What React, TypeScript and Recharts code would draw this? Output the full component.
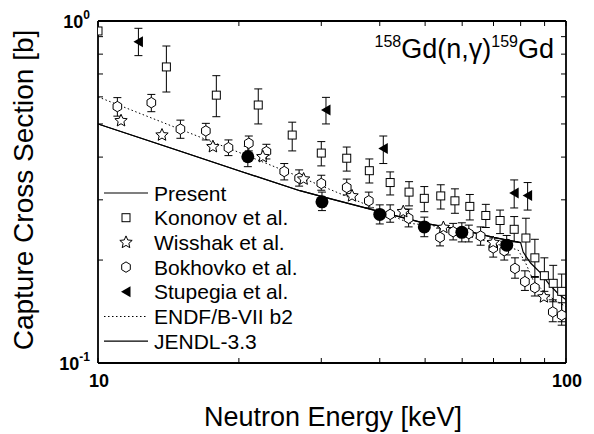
import React from "react";
import { ComposedChart, Line, Scatter, ErrorBar, XAxis, YAxis, Legend, Customized } from "recharts";

const FONT = '"Liberation Sans", Arial, Helvetica, sans-serif';

// Energies in keV, capture cross sections in barns
const kononovE = [10.0, 14.0, 17.9, 22.0, 26.0, 30.0, 34.0, 38.0, 42.1, 46.2, 49.8, 54.0, 57.9, 62.3, 67.4, 72.3, 77.5, 82.1, 85.8, 89.9, 93.9, 97.9];
const kononovXs = [0.935, 0.734, 0.607, 0.568, 0.464, 0.411, 0.397, 0.365, 0.337, 0.316, 0.303, 0.308, 0.298, 0.287, 0.270, 0.261, 0.246, 0.232, 0.203, 0.180, 0.171, 0.162];
const kononovHi = [NaN, 0.845, 0.692, 0.633, 0.506, 0.444, 0.428, 0.395, 0.362, 0.339, 0.328, 0.332, 0.323, 0.311, 0.291, 0.280, 0.268, 0.265, 0.230, 0.203, 0.193, 0.182];
const kononovLo = [NaN, 0.620, 0.525, 0.500, 0.417, 0.377, 0.364, 0.336, 0.310, 0.288, 0.277, 0.282, 0.274, 0.262, 0.249, 0.239, 0.226, 0.200, 0.178, 0.162, 0.151, 0.132];

const wisshakE = [11.2, 13.7, 17.6, 22.5, 27.5, 34.9, 44.9, 54.7, 69.9, 89.7];
const wisshakXs = [0.511, 0.464, 0.429, 0.401, 0.345, 0.308, 0.277, 0.249, 0.225, 0.156];

const bokhovkoE = [11.0, 13.0, 15.0, 17.0, 19.0, 21.0, 22.9, 25.0, 26.9, 30.0, 34.0, 37.9, 42.1, 46.1, 53.8, 57.4, 62.0, 65.7, 69.9, 73.8, 77.8, 81.7, 85.8, 93.7, 97.9];
const bokhovkoXs = [0.562, 0.577, 0.483, 0.477, 0.426, 0.439, 0.415, 0.363, 0.347, 0.335, 0.326, 0.298, 0.272, 0.265, 0.233, 0.242, 0.239, 0.235, 0.217, 0.213, 0.189, 0.173, 0.166, 0.141, 0.138];
const bokhovkoHi = [0.597, 0.610, 0.513, 0.502, 0.449, 0.461, 0.436, 0.383, 0.367, 0.354, 0.345, 0.316, 0.290, 0.282, 0.248, 0.256, 0.253, 0.250, 0.232, 0.227, 0.203, 0.186, 0.179, 0.153, 0.150];
const bokhovkoLo = [0.527, 0.543, 0.454, 0.449, 0.404, 0.417, 0.395, 0.343, 0.329, 0.320, 0.310, 0.284, 0.258, 0.250, 0.220, 0.229, 0.226, 0.221, 0.204, 0.200, 0.177, 0.163, 0.157, 0.132, 0.129];

const stupegiaE = [12.2, 30.7, 40.7, 77.5, 82.8];
const stupegiaXs = [0.870, 0.549, 0.424, 0.314, 0.309];
const stupegiaHi = [0.952, 0.598, 0.461, 0.343, 0.337];
const stupegiaLo = [0.792, 0.500, 0.383, 0.284, 0.280];

const presentE = [20.9, 30.1, 40.0, 49.8, 59.9, 74.7];
const presentXs = [0.401, 0.296, 0.272, 0.250, 0.241, 0.221];
const presentHi = [0.430, 0.316, 0.290, 0.267, 0.257, 0.236];
const presentLo = [0.375, 0.279, 0.255, 0.234, 0.226, 0.207];

// evaluated curves
const presentFitE = [10, 15, 20, 27, 30, 40, 50, 60, 70, 80];
const presentFitXs = [0.500, 0.416, 0.365, 0.319, 0.307, 0.277, 0.256, 0.245, 0.233, 0.225];
const jendlE = [10, 15, 20, 27, 30, 40, 50, 60, 70, 80, 81, 84, 88, 92, 96, 100];
const jendlXs = [0.500, 0.416, 0.365, 0.319, 0.307, 0.277, 0.256, 0.245, 0.233, 0.225, 0.211, 0.196, 0.184, 0.170, 0.160, 0.153];
const endfE = [10, 15, 20, 27, 35, 46.4, 52, 60, 70, 79, 82, 85, 91, 100];
const endfXs = [0.600, 0.482, 0.413, 0.350, 0.302, 0.256, 0.252, 0.238, 0.224, 0.214, 0.196, 0.175, 0.158, 0.146];

const xTicks = [10, 20, 30, 40, 50, 60, 70, 80, 90, 100];
const yTicks = [0.1, 0.2, 0.3, 0.4, 0.5, 0.6, 0.7, 0.8, 0.9, 1];

const points = (e: number[], xs: number[], hi?: number[], lo?: number[]) =>
  e.map((x, i) => ({
    x,
    y: xs[i],
    err: hi && lo && !isNaN(hi[i]) ? [xs[i] - lo[i], hi[i] - xs[i]] : undefined,
  }));

const curve = (e: number[], xs: number[]) => e.map((x, i) => ({ x, y: xs[i] }));

const OpenSquare = ({ cx, cy }: any) => (
  <rect x={cx - 4} y={cy - 4} width={8} height={8} fill="#fff" stroke="#000" strokeWidth={1} />
);

const OpenStar = ({ cx, cy }: any) => {
  const pts: string[] = [];
  for (let k = 0; k < 10; k++) {
    const r = k % 2 === 0 ? 6.5 : 3.0;
    const a = -Math.PI / 2 + (k * Math.PI) / 5;
    pts.push(`${cx + r * Math.cos(a)},${cy + r * Math.sin(a)}`);
  }
  return <polygon points={pts.join(" ")} fill="#fff" stroke="#000" strokeWidth={1} />;
};

const OpenHexagon = ({ cx, cy }: any) => {
  const rx = 4.3;
  const ry = 5.2;
  const pts = [
    [cx, cy - ry],
    [cx + rx, cy - ry / 2],
    [cx + rx, cy + ry / 2],
    [cx, cy + ry],
    [cx - rx, cy + ry / 2],
    [cx - rx, cy - ry / 2],
  ];
  return <polygon points={pts.map((p) => p.join(",")).join(" ")} fill="#fff" stroke="#000" strokeWidth={1} />;
};

const LeftTriangle = ({ cx, cy }: any) => (
  <polygon points={`${cx - 5},${cy} ${cx + 4.5},${cy - 5.5} ${cx + 4.5},${cy + 5.5}`} fill="#000" />
);

const FilledCircle = ({ cx, cy }: any) => <circle cx={cx} cy={cy} r={6.5} fill="#000" />;

const legendRows = [
  { name: "Present", kind: "solid" },
  { name: "Kononov et al.", kind: "square" },
  { name: "Wisshak et al.", kind: "star" },
  { name: "Bokhovko et al.", kind: "hexagon" },
  { name: "Stupegia et al.", kind: "triangle" },
  { name: "ENDF/B-VII b2", kind: "dotted" },
  { name: "JENDL-3.3", kind: "solid" },
];

const LegendBox = () => (
  <svg width={220} height={180} style={{ display: "block" }}>
    {legendRows.map((row, i) => {
      const cy = 12 + i * 24.7;
      const cx = 26;
      let glyph: React.ReactNode = null;
      if (row.kind === "solid") glyph = <line x1={4} x2={48} y1={cy} y2={cy} stroke="#000" strokeWidth={1.2} />;
      if (row.kind === "dotted") glyph = <line x1={4} x2={48} y1={cy} y2={cy} stroke="#000" strokeWidth={1} strokeDasharray="1.5 2.5" />;
      if (row.kind === "square") glyph = <OpenSquare cx={cx} cy={cy} />;
      if (row.kind === "star") glyph = <OpenStar cx={cx} cy={cy} />;
      if (row.kind === "hexagon") glyph = <OpenHexagon cx={cx} cy={cy} />;
      if (row.kind === "triangle") glyph = <LeftTriangle cx={cx} cy={cy} />;
      return (
        <g key={row.name}>
          {glyph}
          <text x={54} y={cy + 7.5} fontFamily={FONT} fontSize={21} fill="#000">
            {row.name}
          </text>
        </g>
      );
    })}
  </svg>
);

// ticks point into the plot; only the decade ends carry labels
const BottomTick = ({ x, y, payload }: any) => (
  <g>
    <line x1={x} y1={y} x2={x} y2={y - 5} stroke="#000" strokeWidth={1} />
    {(payload.value === 10 || payload.value === 100) && (
      <text x={x + 1} y={y + 24} textAnchor="middle" fontFamily={FONT} fontWeight="bold" fontSize={18} fill="#000">
        {payload.value}
      </text>
    )}
  </g>
);

const TopTick = ({ x, y }: any) => <line x1={x} y1={y} x2={x} y2={y + 5} stroke="#000" strokeWidth={1} />;

const LeftTick = ({ x, y, payload }: any) => {
  const exp = payload.value === 1 ? "0" : payload.value === 0.1 ? "-1" : null;
  return (
    <g>
      <line x1={x} y1={y} x2={x + 5} y2={y} stroke="#000" strokeWidth={1} />
      {exp && (
        <text x={x - 8} y={y + 7} textAnchor="end" fontFamily={FONT} fontWeight="bold" fontSize={18} fill="#000">
          10
          <tspan dy={-9} fontSize={12}>
            {exp}
          </tspan>
        </text>
      )}
    </g>
  );
};

const RightTick = ({ x, y }: any) => <line x1={x} y1={y} x2={x - 5} y2={y} stroke="#000" strokeWidth={1} />;

const Annotations = () => (
  <g fontFamily={FONT} fill="#000">
    <text x={325} y={418} textAnchor="middle" fontSize={27}>
      Neutron Energy [keV]
    </text>
    <text x={25} y={182} textAnchor="middle" fontSize={28} transform="rotate(-90 25 182)">
      Capture Cross Section [b]
    </text>
    <text x={546} y={50} textAnchor="end" fontSize={27}>
      <tspan fontSize={16} dy={-11}>158</tspan>
      <tspan dy={11}>Gd(n,γ)</tspan>
      <tspan fontSize={16} dy={-11}>159</tspan>
      <tspan dy={11}>Gd</tspan>
    </text>
  </g>
);

export default function App() {
  const axisLine = { stroke: "#000", strokeWidth: 1.8 };
  const errProps = { dataKey: "err", direction: "y" as const, width: 4, stroke: "#000", strokeWidth: 1 };

  return (
    <ComposedChart width={578} height={426} margin={{ top: 12, right: 19, bottom: 31, left: 10 }}>
      <XAxis
        xAxisId="b"
        dataKey="x"
        type="number"
        scale="log"
        domain={[10, 100]}
        ticks={xTicks}
        allowDataOverflow
        height={40}
        axisLine={axisLine}
        tickLine={false}
        tickSize={0}
        tickMargin={0}
        tick={<BottomTick />}
        interval={0}
      />
      <XAxis
        xAxisId="t"
        orientation="top"
        dataKey="x"
        type="number"
        scale="log"
        domain={[10, 100]}
        ticks={xTicks}
        allowDataOverflow
        height={1}
        axisLine={axisLine}
        tickLine={false}
        tickSize={0}
        tickMargin={0}
        tick={<TopTick />}
        interval={0}
      />
      <YAxis
        yAxisId="l"
        dataKey="y"
        type="number"
        scale="log"
        domain={[0.1, 1]}
        ticks={yTicks}
        allowDataOverflow
        width={80}
        axisLine={axisLine}
        tickLine={false}
        tickSize={0}
        tickMargin={0}
        tick={<LeftTick />}
        interval={0}
      />
      <YAxis
        yAxisId="r"
        orientation="right"
        dataKey="y"
        type="number"
        scale="log"
        domain={[0.1, 1]}
        ticks={yTicks}
        allowDataOverflow
        width={1}
        axisLine={axisLine}
        tickLine={false}
        tickSize={0}
        tickMargin={0}
        tick={<RightTick />}
        interval={0}
      />

      <Line xAxisId="b" yAxisId="l" data={curve(endfE, endfXs)} dataKey="y" type="linear" dot={false} stroke="#000" strokeWidth={1} strokeDasharray="1.5 2.5" isAnimationActive={false} />
      <Line xAxisId="b" yAxisId="l" data={curve(jendlE, jendlXs)} dataKey="y" type="linear" dot={false} stroke="#000" strokeWidth={1.2} isAnimationActive={false} />
      <Line xAxisId="b" yAxisId="l" data={curve(presentFitE, presentFitXs)} dataKey="y" type="linear" dot={false} stroke="#000" strokeWidth={1.2} isAnimationActive={false} />

      <Scatter xAxisId="b" yAxisId="l" data={points(kononovE, kononovXs, kononovHi, kononovLo)} shape={<OpenSquare />} isAnimationActive={false}>
        <ErrorBar {...errProps} />
      </Scatter>
      <Scatter xAxisId="b" yAxisId="l" data={points(bokhovkoE, bokhovkoXs, bokhovkoHi, bokhovkoLo)} shape={<OpenHexagon />} isAnimationActive={false}>
        <ErrorBar {...errProps} />
      </Scatter>
      <Scatter xAxisId="b" yAxisId="l" data={points(wisshakE, wisshakXs)} shape={<OpenStar />} isAnimationActive={false} />
      <Scatter xAxisId="b" yAxisId="l" data={points(stupegiaE, stupegiaXs, stupegiaHi, stupegiaLo)} shape={<LeftTriangle />} isAnimationActive={false}>
        <ErrorBar {...errProps} />
      </Scatter>
      <Scatter xAxisId="b" yAxisId="l" data={points(presentE, presentXs, presentHi, presentLo)} shape={<FilledCircle />} isAnimationActive={false}>
        <ErrorBar {...errProps} />
      </Scatter>

      <Legend
        layout="vertical"
        align="center"
        verticalAlign="middle"
        wrapperStyle={{ left: 92, top: 173, width: 220, height: 180 }}
        content={() => <LegendBox />}
      />
      <Customized component={Annotations} />
    </ComposedChart>
  );
}
